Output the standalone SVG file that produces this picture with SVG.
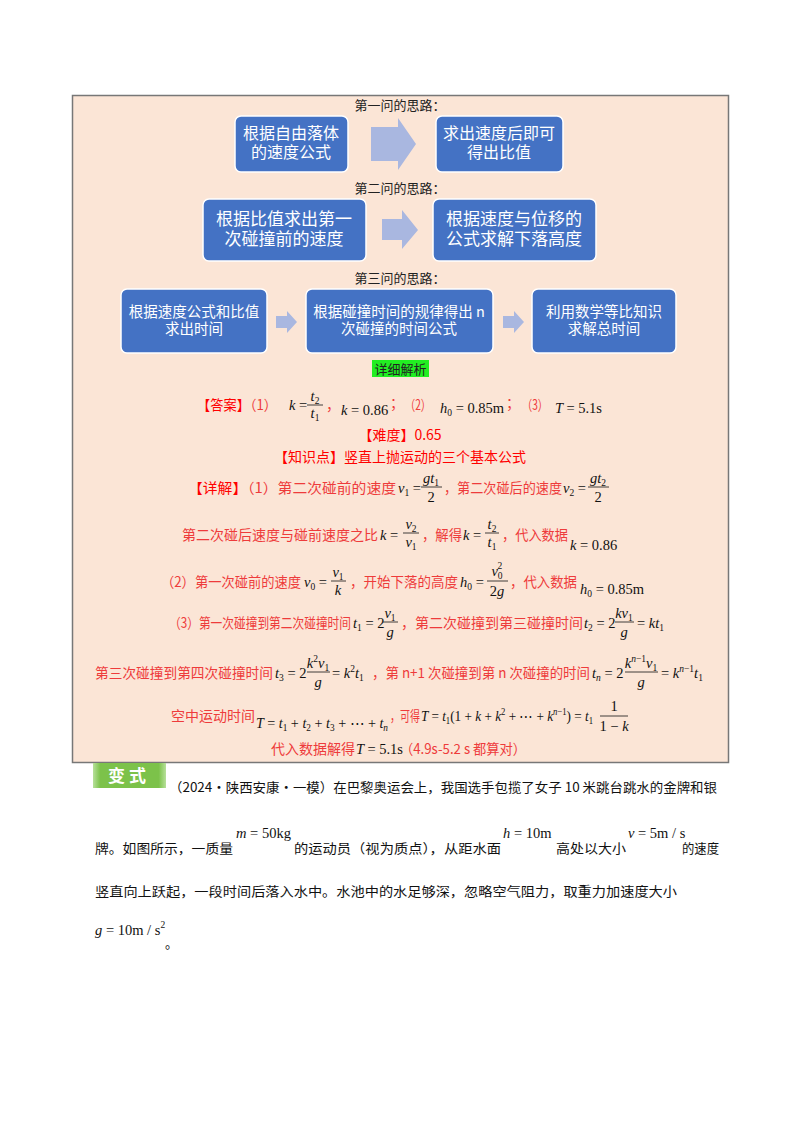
<svg xmlns="http://www.w3.org/2000/svg" width="800" height="1132" viewBox="0 0 800 1132">
<defs>
<style>
.lbl{font-family:"Noto Sans CJK SC",sans-serif;font-size:13px;fill:#222;text-anchor:middle}
.bx{fill:#4472c4;stroke:#fff;stroke-width:1.5}
.bt{font-family:"Noto Sans CJK SC",sans-serif;fill:#fff;text-anchor:middle}
.ar{fill:#a9b7e0}
.r{font-family:"Noto Sans CJK SC",sans-serif;font-size:14px;fill:#ee3b3b}
.rh{fill:#ff0000}
.m{font-family:"Liberation Serif","Times New Roman",serif;font-size:14.5px;font-style:italic;fill:#111}
.n{font-style:normal}
.s{font-size:9.5px}
.mc{text-anchor:middle}
.bar{stroke:#111;stroke-width:0.8}
.b{font-family:"Noto Sans CJK SC",sans-serif;font-size:13px;fill:#111}
</style>
<linearGradient id="g" x1="0" x2="1" y1="0" y2="0">
<stop offset="0" stop-color="#b7e09a"/><stop offset="0.1" stop-color="#7cc24a"/><stop offset="0.9" stop-color="#7cc24a"/><stop offset="1" stop-color="#b7e09a"/>
</linearGradient>
</defs>
<rect width="800" height="1132" fill="#fff"/>
<rect x="72.5" y="95.5" width="656" height="667" fill="#fbe5d6" stroke="#777" stroke-width="1.5"/>

<text class="lbl" x="400" y="110">第一问的思路：</text>
<text class="lbl" x="400" y="193">第二问的思路：</text>
<text class="lbl" x="400" y="283">第三问的思路：</text>

<g id="boxA"><rect class="bx" x="235" y="116" width="113" height="56" rx="6"/><text class="bt" font-size="16" x="291" y="139">根据自由落体</text><text class="bt" font-size="16" x="291" y="158">的速度公式</text></g>
<g id="boxB"><rect class="bx" x="436" y="116" width="127" height="56" rx="6"/><text class="bt" font-size="16" x="499" y="139">求出速度后即可</text><text class="bt" font-size="16" x="499" y="158">得出比值</text></g>
<g id="boxC"><rect class="bx" x="203" y="199" width="163" height="62" rx="6"/><text class="bt" font-size="17" x="284" y="225">根据比值求出第一</text><text class="bt" font-size="17" x="284" y="245">次碰撞前的速度</text></g>
<g id="boxD"><rect class="bx" x="433" y="199" width="163" height="62" rx="6"/><text class="bt" font-size="17" x="514" y="225">根据速度与位移的</text><text class="bt" font-size="17" x="514" y="245">公式求解下落高度</text></g>
<g id="boxE"><rect class="bx" x="121" y="289" width="146" height="64" rx="6"/><text class="bt" font-size="14.5" x="194" y="317">根据速度公式和比值</text><text class="bt" font-size="14.5" x="194" y="334">求出时间</text></g>
<g id="boxF"><rect class="bx" x="306" y="289" width="187" height="64" rx="6"/><text class="bt" font-size="14.5" x="399" y="317">根据碰撞时间的规律得出 n</text><text class="bt" font-size="14.5" x="399" y="334">次碰撞的时间公式</text></g>
<g id="boxG"><rect class="bx" x="532" y="289" width="144" height="64" rx="6"/><text class="bt" font-size="14.5" x="604" y="317">利用数学等比知识</text><text class="bt" font-size="14.5" x="604" y="334">求解总时间</text></g>

<g id="connectors">
<polygon class="ar" points="371,127 398,127 398,118 416,144 398,170 398,161 371,161"/>
<polygon class="ar" points="382,219 402,219 402,210 418,230 402,249 402,240 382,240"/>
<polygon class="ar" points="276,316 287,316 287,311 297,322 287,333 287,328 276,328"/>
<polygon class="ar" points="503,316 514,316 514,311 524,322 514,333 514,328 503,328"/>
</g>

<rect x="372" y="360" width="57" height="17" fill="#22ee22"/>
<text x="400.5" y="374" font-family="Noto Sans CJK SC,sans-serif" font-size="13" fill="#222" text-anchor="middle">详细解析</text>

<!-- answer line -->
<text class="r" x="197" y="410" textLength="80" lengthAdjust="spacingAndGlyphs"><tspan class="rh">【答案】</tspan>（1）</text>
<text class="m" x="289" y="410">k <tspan class="n">=</tspan></text>
<text class="m mc" x="315" y="401">t<tspan class="s n" dy="3">2</tspan></text>
<line class="bar" x1="307" y1="405" x2="323" y2="405"/>
<text class="m mc" x="315" y="418">t<tspan class="s n" dy="3">1</tspan></text>
<text class="r" x="326" y="410">，</text>
<text class="m" x="341" y="415">k <tspan class="n">= 0.86</tspan></text>
<text class="r" x="390" y="408">；</text>
<text class="r" x="405" y="410" textLength="26" lengthAdjust="spacingAndGlyphs">（2）</text>
<text class="m" x="440" y="413">h<tspan class="s n" dy="3">0</tspan><tspan class="n" dy="-3"> = 0.85m</tspan></text>
<text class="r" x="506" y="408">；</text>
<text class="r" x="522" y="410" textLength="26" lengthAdjust="spacingAndGlyphs">（3）</text>
<text class="m" x="555" y="413">T <tspan class="n">= 5.1s</tspan></text>

<text class="r rh" x="400" y="440" text-anchor="middle">【难度】0.65</text>
<text class="r rh" x="400" y="462" text-anchor="middle">【知识点】竖直上抛运动的三个基本公式</text>

<!-- detail 1 -->
<text class="r" x="188" y="493" textLength="208" lengthAdjust="spacingAndGlyphs"><tspan class="rh">【详解】</tspan>（1）第二次碰前的速度</text>
<text class="m" x="398" y="493">v<tspan class="s n" dy="3">1</tspan><tspan class="n" dy="-3"> =</tspan></text>
<text class="m mc" x="431" y="483">gt<tspan class="s n" dy="3">1</tspan></text>
<line class="bar" x1="421" y1="487" x2="442" y2="487"/>
<text class="m mc n" x="431" y="502">2</text>
<text class="r" x="444" y="493" textLength="118" lengthAdjust="spacingAndGlyphs">，第二次碰后的速度</text>
<text class="m" x="563" y="493">v<tspan class="s n" dy="3">2</tspan><tspan class="n" dy="-3"> =</tspan></text>
<text class="m mc" x="598" y="483">gt<tspan class="s n" dy="3">2</tspan></text>
<line class="bar" x1="588" y1="487" x2="609" y2="487"/>
<text class="m mc n" x="598" y="502">2</text>

<!-- detail 2 -->
<text class="r" x="182" y="540" textLength="196" lengthAdjust="spacingAndGlyphs">第二次碰后速度与碰前速度之比</text>
<text class="m" x="380" y="540">k <tspan class="n">=</tspan></text>
<text class="m mc" x="411" y="529">v<tspan class="s n" dy="3">2</tspan></text>
<line class="bar" x1="403" y1="533" x2="419" y2="533"/>
<text class="m mc" x="411" y="547">v<tspan class="s n" dy="3">1</tspan></text>
<text class="r" x="422" y="540" textLength="40" lengthAdjust="spacingAndGlyphs">，解得</text>
<text class="m" x="463" y="540">k <tspan class="n">=</tspan></text>
<text class="m mc" x="492" y="529">t<tspan class="s n" dy="3">2</tspan></text>
<line class="bar" x1="485" y1="533" x2="499" y2="533"/>
<text class="m mc" x="492" y="547">t<tspan class="s n" dy="3">1</tspan></text>
<text class="r" x="502" y="540" textLength="66" lengthAdjust="spacingAndGlyphs">，代入数据</text>
<text class="m" x="570" y="550">k <tspan class="n">= 0.86</tspan></text>

<!-- detail (2) -->
<text class="r" x="161" y="587" textLength="140" lengthAdjust="spacingAndGlyphs">（2）第一次碰前的速度</text>
<text class="m" x="304" y="587">v<tspan class="s n" dy="3">0</tspan><tspan class="n" dy="-3"> =</tspan></text>
<text class="m mc" x="338" y="577">v<tspan class="s n" dy="3">1</tspan></text>
<line class="bar" x1="331" y1="581" x2="346" y2="581"/>
<text class="m mc" x="338" y="595">k</text>
<text class="r" x="350" y="587" textLength="108" lengthAdjust="spacingAndGlyphs">，开始下落的高度</text>
<text class="m" x="460" y="587">h<tspan class="s n" dy="3">0</tspan><tspan class="n" dy="-3"> =</tspan></text>
<text class="m mc" x="497" y="576">v<tspan class="s n" dy="3">0</tspan><tspan class="s n" dx="-5" dy="-10">2</tspan></text>
<line class="bar" x1="487" y1="581" x2="508" y2="581"/>
<text class="m mc" x="497" y="596"><tspan class="n">2</tspan>g</text>
<text class="r" x="510" y="587" textLength="67" lengthAdjust="spacingAndGlyphs">，代入数据</text>
<text class="m" x="580" y="594">h<tspan class="s n" dy="3">0</tspan><tspan class="n" dy="-3"> = 0.85m</tspan></text>

<!-- detail (3) -->
<text class="r" x="169" y="628" textLength="182" lengthAdjust="spacingAndGlyphs">（3）第一次碰撞到第二次碰撞时间</text>
<text class="m" x="353" y="628">t<tspan class="s n" dy="3">1</tspan><tspan class="n" dy="-3"> = 2</tspan></text>
<text class="m mc" x="390" y="618">v<tspan class="s n" dy="3">1</tspan></text>
<line class="bar" x1="383" y1="622" x2="398" y2="622"/>
<text class="m mc" x="390" y="637">g</text>
<text class="r" x="401" y="628" textLength="182" lengthAdjust="spacingAndGlyphs">，第二次碰撞到第三碰撞时间</text>
<text class="m" x="584" y="628">t<tspan class="s n" dy="3">2</tspan><tspan class="n" dy="-3"> = 2</tspan></text>
<text class="m mc" x="624" y="618">kv<tspan class="s n" dy="3">1</tspan></text>
<line class="bar" x1="615" y1="622" x2="634" y2="622"/>
<text class="m mc" x="624" y="637">g</text>
<text class="m" x="637" y="628"><tspan class="n">=</tspan> kt<tspan class="s n" dy="3">1</tspan></text>

<!-- line t3 -->
<text class="r" x="95" y="678" textLength="178" lengthAdjust="spacingAndGlyphs">第三次碰撞到第四次碰撞时间</text>
<text class="m" x="275" y="678">t<tspan class="s n" dy="3">3</tspan><tspan class="n" dy="-3"> = 2</tspan></text>
<text class="m mc" x="318" y="668">k<tspan class="s n" dy="-6">2</tspan><tspan dy="6">v</tspan><tspan class="s n" dy="3">1</tspan></text>
<line class="bar" x1="307" y1="672" x2="330" y2="672"/>
<text class="m mc" x="318" y="687">g</text>
<text class="m" x="332" y="678"><tspan class="n">=</tspan> k<tspan class="s n" dy="-6">2</tspan><tspan dy="6">t</tspan><tspan class="s n" dy="3">1</tspan></text>
<text class="r" x="372" y="678" textLength="218" lengthAdjust="spacingAndGlyphs">，第 n+1 次碰撞到第 n 次碰撞的时间</text>
<text class="m" x="592" y="678">t<tspan class="s" dy="3">n</tspan><tspan class="n" dy="-3"> = 2</tspan></text>
<text class="m mc" x="641" y="668">k<tspan class="s" dy="-6">n</tspan><tspan class="s n">−1</tspan><tspan dy="6">v</tspan><tspan class="s n" dy="3">1</tspan></text>
<line class="bar" x1="625" y1="672" x2="658" y2="672"/>
<text class="m mc" x="641" y="687">g</text>
<text class="m" x="661" y="678"><tspan class="n">=</tspan> k<tspan class="s" dy="-6">n</tspan><tspan class="s n">−1</tspan><tspan dy="6">t</tspan><tspan class="s n" dy="3">1</tspan></text>

<!-- line T -->
<text class="r" x="171" y="721" textLength="84" lengthAdjust="spacingAndGlyphs">空中运动时间</text>
<text class="m" x="256" y="728" textLength="132" lengthAdjust="spacingAndGlyphs">T <tspan class="n">=</tspan> t<tspan class="s n" dy="3">1</tspan><tspan class="n" dy="-3"> + </tspan>t<tspan class="s n" dy="3">2</tspan><tspan class="n" dy="-3"> + </tspan>t<tspan class="s n" dy="3">3</tspan><tspan class="n" dy="-3"> + ⋯ + </tspan>t<tspan class="s" dy="3">n</tspan></text>
<text class="r" x="390" y="721" textLength="30" lengthAdjust="spacingAndGlyphs">，可得</text>
<text class="m" x="421" y="721" textLength="172" lengthAdjust="spacingAndGlyphs">T <tspan class="n">=</tspan> t<tspan class="s n" dy="3">1</tspan><tspan class="n" dy="-3">(1 + </tspan>k<tspan class="n"> + </tspan>k<tspan class="s n" dy="-6">2</tspan><tspan class="n" dy="6"> + ⋯ + </tspan>k<tspan class="s" dy="-6">n</tspan><tspan class="s n">−1</tspan><tspan class="n" dy="6">) = </tspan>t<tspan class="s n" dy="3">1</tspan></text>
<text class="m mc n" x="614" y="711">1</text>
<line class="bar" x1="600" y1="716" x2="628" y2="716"/>
<text class="m mc" x="614" y="731"><tspan class="n">1 − </tspan>k</text>

<text class="r" x="271" y="754" textLength="84" lengthAdjust="spacingAndGlyphs">代入数据解得</text>
<text class="m" x="356" y="754">T <tspan class="n">= 5.1s</tspan></text>
<text class="r" x="400" y="754" textLength="126" lengthAdjust="spacingAndGlyphs">（4.9s-5.2 s 都算对）</text>

<!-- bottom -->
<g id="badge"><rect x="93" y="763" width="73" height="25" fill="url(#g)"/><text x="129" y="782" font-family="Noto Sans CJK SC,sans-serif" font-size="17" font-weight="bold" fill="#fff" text-anchor="middle" letter-spacing="4">变式</text></g>
<text class="b" x="169" y="792" textLength="548" lengthAdjust="spacingAndGlyphs">（2024·陕西安康·一模）在巴黎奥运会上，我国选手包揽了女子 10 米跳台跳水的金牌和银</text>
<text class="b" x="95" y="853" textLength="138" lengthAdjust="spacingAndGlyphs">牌。如图所示，一质量</text>
<text class="m" x="236" y="838">m <tspan class="n">= 50kg</tspan></text>
<text class="b" x="294" y="853" textLength="207" lengthAdjust="spacingAndGlyphs">的运动员（视为质点），从距水面</text>
<text class="m" x="503" y="838">h <tspan class="n">= 10m</tspan></text>
<text class="b" x="556" y="853" textLength="70" lengthAdjust="spacingAndGlyphs">高处以大小</text>
<text class="m" x="628" y="838">v <tspan class="n">= 5m / s</tspan></text>
<text class="b" x="682" y="853" textLength="37" lengthAdjust="spacingAndGlyphs">的速度</text>
<text class="b" x="95" y="896" textLength="582" lengthAdjust="spacingAndGlyphs">竖直向上跃起，一段时间后落入水中。水池中的水足够深，忽略空气阻力，取重力加速度大小</text>
<text class="m" x="95" y="935">g <tspan class="n">= 10m / s</tspan><tspan class="s n" dy="-7">2</tspan></text>
<text class="b" x="165" y="948" font-size="10">。</text>
</svg>
